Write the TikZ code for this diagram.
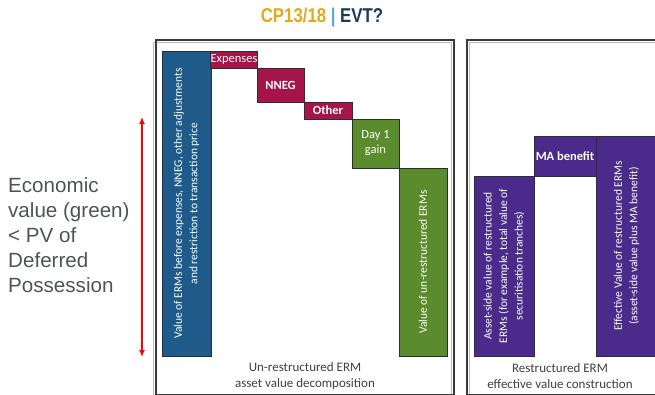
\documentclass[tikz,border=0pt]{standalone}
\usepackage{fontspec}
\setmainfont{Carlito}
\newfontfamily\sidefont{Liberation Sans}
\newfontfamily\headfont[FakeStretch=0.84]{Liberation Sans}
\usetikzlibrary{arrows.meta}

\definecolor{ermblue}{HTML}{1E5B8A}
\definecolor{ermred}{HTML}{A5154A}
\definecolor{ermgreen}{HTML}{5A8B2C}
\definecolor{ermpurple}{HTML}{4A2A8A}
\definecolor{barline}{HTML}{2E2E2E}
\definecolor{panelline}{HTML}{3A3A3A}
\definecolor{panelshade}{HTML}{BDBDBD}
\definecolor{captiongray}{HTML}{404040}
\definecolor{sidegray}{HTML}{4F5358}
\definecolor{headgold}{HTML}{E0A91E}
\definecolor{headsep}{HTML}{5AAAD8}
\definecolor{headnavy}{HTML}{1C3A5E}

\tikzset{
  bar/.style={draw=barline, line width=0.6pt, text=white, inner sep=0pt,
    align=center, font=\fontsize{11.5}{15.5}\selectfont},
  shortbar/.style={bar, font=\fontsize{12.5}{15}\selectfont},
  upbar/.style={bar, rotate=90},
  caption/.style={text=captiongray, align=center, inner sep=0pt,
    font=\fontsize{13}{16}\selectfont},
  panel/.style={draw=panelline, line width=1.6pt},
  panelinner/.style={draw=panelshade, line width=0.8pt},
}

\begin{document}
\begin{tikzpicture}[x=1pt,y=-1pt]
\useasboundingbox (0,0) rectangle (655,395);
\clip (0,0) rectangle (655,395);

% heading
\node[anchor=base, inner sep=0pt] (title) at (322,23)
  {\headfont\bfseries\fontsize{20}{24}\selectfont
   \textcolor{headgold}{CP13/18} \textcolor{headsep}{|} \textcolor{headnavy}{EVT?}};

% the two panels
\draw[panelinner] (153.5,42.5) rectangle (451.5,397);
\draw[panel] (156,40) rectangle (454,394.5);
\draw[panelinner] (469.5,42.5) rectangle (700,397);
\draw[panel] (467,40) rectangle (700,394.5);

% un-restructured ERM: waterfall
\node[upbar, fill=ermblue, minimum width=305pt, minimum height=49pt] (gross) at (186.5,203.5)
  {Value of ERMs before expenses, NNEG, other adjustments\\and restriction to transaction price};
\node[shortbar, fill=ermred, minimum width=46pt, minimum height=17pt] (expenses) at (234,59.5) {Expenses};
\node[shortbar, fill=ermred, minimum width=47pt, minimum height=34pt] (nneg) at (280.5,85) {\bfseries NNEG};
\node[shortbar, fill=ermred, minimum width=48pt, minimum height=17pt] (other) at (328,110.5) {\bfseries Other};
\node[shortbar, fill=ermgreen, minimum width=47pt, minimum height=49pt] (dayone) at (375.5,143.5) {Day 1\\gain};
\node[upbar, fill=ermgreen, minimum width=188pt, minimum height=48pt] (unres) at (423,262)
  {Value of un-restructured ERMs};
\node[caption] (cap1) at (305,376) {Un-restructured ERM\\asset value decomposition};

% restructured ERM: effective value
\node[upbar, fill=ermpurple, minimum width=180pt, minimum height=60pt] (assetside) at (504,266)
  {Asset-side value of restructured\\ERMs (for example, total value of\\securitisation tranches)};
\node[shortbar, fill=ermpurple, minimum width=62pt, minimum height=40pt] (mabenefit) at (565,156)
  {\bfseries MA benefit};
\node[upbar, fill=ermpurple, minimum width=220pt, minimum height=61pt] (effective) at (626.5,246)
  {Effective Value of restructured ERMs\\(asset-side value plus MA benefit)};
\node[caption] (cap2) at (560,376) {Restructured ERM\\effective value construction};

% side note with its range arrow
\node[anchor=west, align=left, inner sep=0pt, text=sidegray,
  font=\sidefont\fontsize{20.6}{25}\selectfont] (note) at (8,235)
  {Economic\\value (green)\\< PV of\\Deferred\\Possession};
\coordinate (rangetop) at (142,117);
\coordinate (rangebot) at (142,357);
\draw[red, line width=1.6pt, {Latex[length=7pt,width=6pt]}-{Latex[length=7pt,width=6pt]}]
  (rangetop) -- (rangebot);
\end{tikzpicture}
\end{document}
